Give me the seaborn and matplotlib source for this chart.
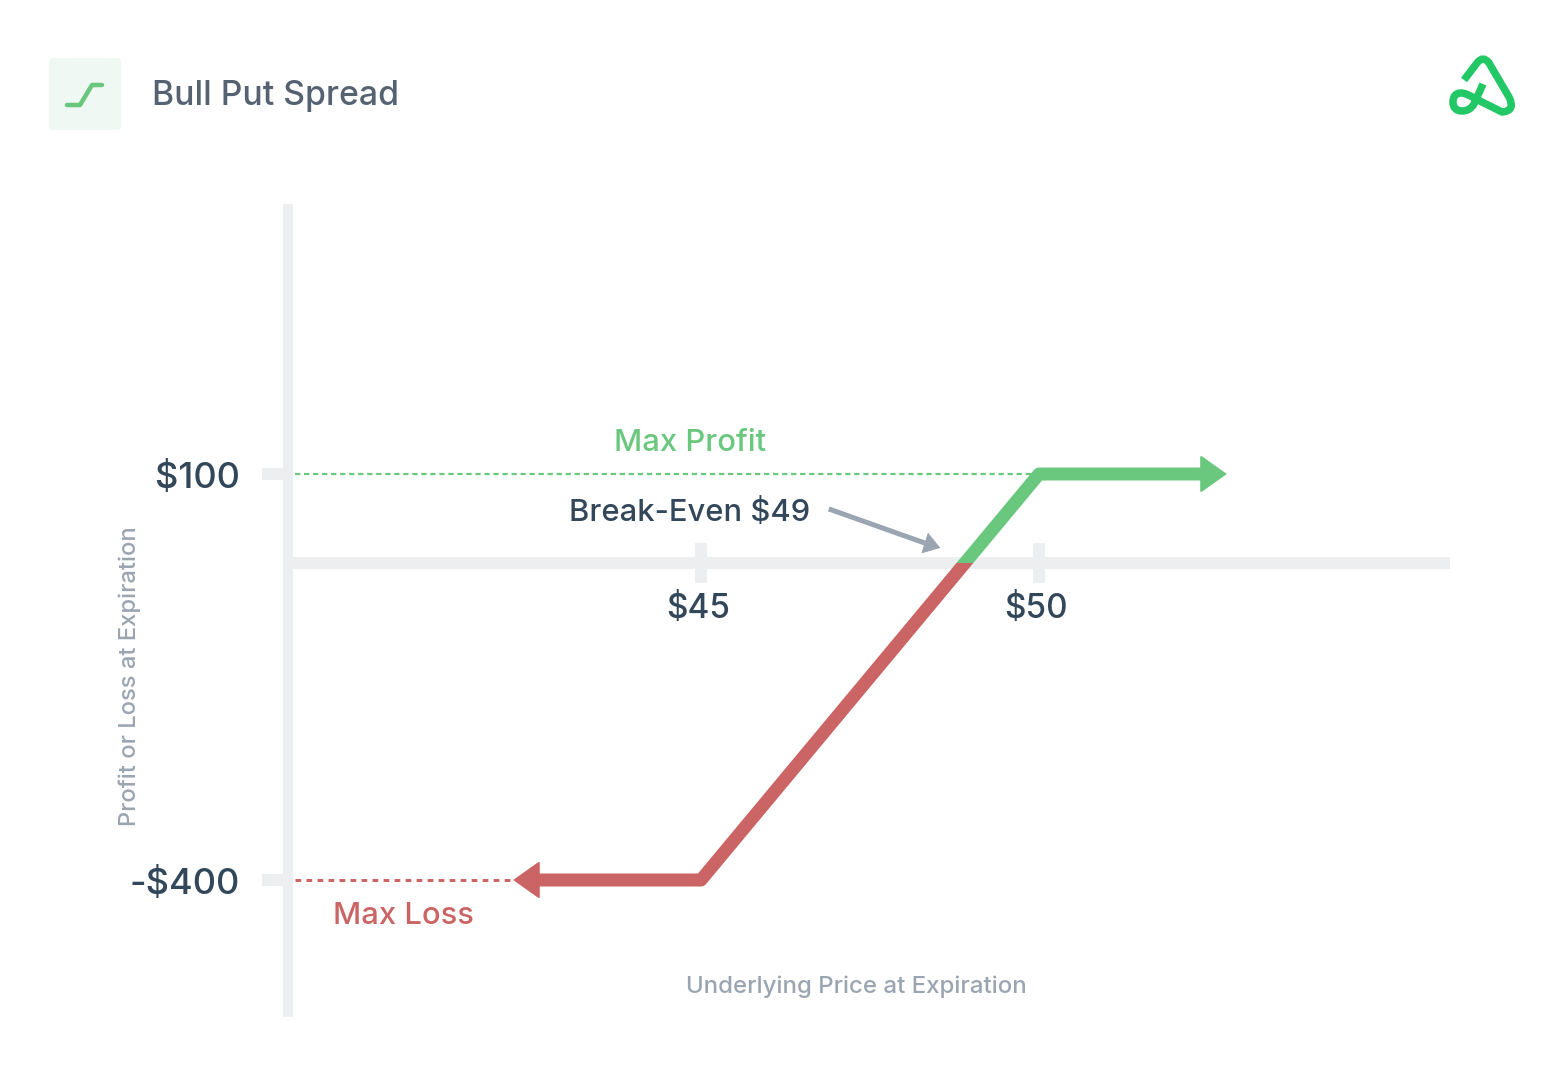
from __future__ import annotations

import matplotlib

matplotlib.use("Agg")

import matplotlib.pyplot as plt
import pandas as pd
import seaborn as sns
from matplotlib.patches import FancyBboxPatch, PathPatch, Rectangle
from matplotlib.path import Path
from matplotlib.transforms import ScaledTranslation

# payoff values
PRICE = [42.6, 45, 50, 52.4]
PNL = [-400, -400, 100, 100]
ARROW_TIP_PRICE = [42.22, 52.78]
X_TICKS = [45, 50]
X_TICK_LABELS = ["$45", "$50"]
Y_TICKS = [-400, 100]
Y_TICK_LABELS = ["-$400", "$100"]
AXIS_LEVEL = -10  # the drawn axis sits a little under the true zero
BREAK_EVEN_PRICE = [46.89, 48.31, 48.54]
BREAK_EVEN_PNL = [57, 15, 9]
MAX_PROFIT_PRICE = [38.99, 50]
MAX_LOSS_PRICE = [38.99, 42.2]

GREEN = "#69c87d"
RED = "#cb6565"
AXIS_GREY = "#eceef0"
DARK = "#33475b"
MUTED = "#9aa5b1"
TITLE = "#556272"
LOGO = "#22c865"

PX = 0.72  # points per pixel at dpi 100

sns.set_theme(style="white")
plt.rcParams["font.family"] = ["Inter", "DejaVu Sans"]

fig = plt.figure(figsize=(15.6, 10.7), dpi=100)
ax = fig.add_axes([288 / 1560, 1 - 1017 / 1070, (1450 - 288) / 1560, (1017 - 204) / 1070])

payoff = pd.DataFrame({"price": PRICE, "pnl": PNL})

# dotted guides out to the max profit and max loss levels
sns.lineplot(x=MAX_PROFIT_PRICE, y=[100, 100], color=GREEN, linewidth=2.2 * PX,
             dashes=(2.4, 1.7), ax=ax)
sns.lineplot(x=MAX_LOSS_PRICE, y=[-400, -400], color=RED, linewidth=3 * PX,
             dashes=(1.9, 1.77), ax=ax)

# same line twice, each colour clipped at the axis
for color, clip in [
    (RED, (30, -2000, 40, 2000 + AXIS_LEVEL)),
    (GREEN, (30, AXIS_LEVEL, 40, 2000)),
]:
    n_before = len(ax.lines)
    sns.lineplot(data=payoff, x="price", y="pnl", color=color, linewidth=13 * PX,
                 sort=False, estimator=None, ax=ax)
    line = ax.lines[n_before]
    line.set_solid_joinstyle("round")
    line.set_solid_capstyle("butt")
    line.set_zorder(4)
    line.set_clip_path(Rectangle(clip[:2], clip[2], clip[3], transform=ax.transData))

# shaft of the break-even pointer, the head is added below
n_before = len(ax.lines)
sns.lineplot(x=BREAK_EVEN_PRICE[:2], y=BREAK_EVEN_PNL[:2], color=MUTED, linewidth=5 * PX, ax=ax)
ax.lines[n_before].set_solid_capstyle("butt")

# 67.6 px per dollar on x, 0.812 px per dollar on y
ax.set_xlim(45 - (701 - 288) / 67.6, 45 + (1450 - 701) / 67.6)
ax.set_ylim(100 - (1017 - 474) / 0.812, 100 + (474 - 204) / 0.812)

for name in ["top", "right"]:
    ax.spines[name].set_visible(False)
ax.spines["left"].set_linewidth(10 * PX)
ax.spines["left"].set_color(AXIS_GREY)
ax.spines["left"].set_capstyle("butt")
ax.spines["bottom"].set_position(("data", AXIS_LEVEL))
ax.spines["bottom"].set_linewidth(12 * PX)
ax.spines["bottom"].set_color(AXIS_GREY)
ax.spines["bottom"].set_capstyle("butt")

ax.set_xticks(X_TICKS, X_TICK_LABELS)
ax.set_yticks(Y_TICKS, Y_TICK_LABELS)
ax.tick_params(axis="x", bottom=True, direction="inout", length=40 * PX, width=12 * PX,
               color=AXIS_GREY, pad=7.2, labelsize=24, labelcolor=DARK)
ax.tick_params(axis="y", left=True, direction="out", length=26 * PX, width=12 * PX,
               color=AXIS_GREY, pad=16, labelsize=26, labelcolor=DARK)
shift = ScaledTranslation(-3 / 100, 0, fig.dpi_scale_trans)
for label in ax.get_xticklabels():
    label.set_transform(label.get_transform() + shift)
    label.set_fontweight(500)
for label in ax.get_yticklabels():
    label.set_fontweight(500)

ax.set_xlabel("Underlying Price at Expiration", fontsize=17.3, fontweight=500, color=MUTED)
ax.xaxis.set_label_coords((856 - 288) / 1162, (1017 - 987) / 813)
ax.xaxis.label.set_verticalalignment("center")
ax.set_ylabel("Profit or Loss at Expiration", fontsize=17.1, fontweight=500, color=MUTED)
ax.yaxis.set_label_coords((130 - 288) / 1162, (1017 - 676) / 813)
ax.yaxis.label.set_verticalalignment("center")


def arrow(start, end, color, head_length, head_width, width):
    ax.annotate(
        "",
        xy=end,
        xytext=start,
        arrowprops=dict(
            arrowstyle=f"-|>,head_length={head_length * PX},head_width={head_width * PX}",
            mutation_scale=1,
            shrinkA=0,
            shrinkB=0,
            color=color,
            lw=width * PX,
        ),
        zorder=5,
    )


arrow((PRICE[0], PNL[0]), (ARROW_TIP_PRICE[0], PNL[0]), RED, 24, 17, 2)
arrow((PRICE[-1], PNL[-1]), (ARROW_TIP_PRICE[1], PNL[-1]), GREEN, 24, 17, 2)
arrow((BREAK_EVEN_PRICE[1], BREAK_EVEN_PNL[1]), (BREAK_EVEN_PRICE[2], BREAK_EVEN_PNL[2]),
      MUTED, 15, 10, 1)

# header and labels are placed in pixel space on an overlay
deco = fig.add_axes([0, 0, 1, 1], facecolor="none")
deco.set_xlim(0, 1560)
deco.set_ylim(1070, 0)
deco.axis("off")

deco.text(152, 93, "Bull Put Spread", fontsize=24.3, fontweight=500, color=TITLE, va="center_baseline")
deco.text(690, 440, "Max Profit", fontsize=22.3, fontweight=500, color=GREEN, ha="center", va="center_baseline")
deco.text(403, 913, "Max Loss", fontsize=22.3, fontweight=500, color=RED, ha="center", va="center_baseline")
deco.text(690, 510, "Break-Even $49", fontsize=22.3, fontweight=500, color=DARK, ha="center", va="center_baseline")

deco.add_patch(FancyBboxPatch((52, 61), 66, 66, boxstyle="round,pad=3,rounding_size=4",
                              facecolor="#eff8f2", edgecolor="none"))
icon_x = [67, 80, 92, 102]
icon_y = [105, 105, 85, 85]
deco.plot(icon_x, icon_y, color=GREEN, lw=4.5 * PX, solid_capstyle="round", solid_joinstyle="round")

# logo outline
logo_pts = [
    (Path.MOVETO, (1464, 80)),
    (Path.LINETO, (1477, 63)),
    (Path.CURVE3, (1483, 55)),
    (Path.CURVE3, (1489, 63)),
    (Path.LINETO, (1509, 97)),
    (Path.CURVE3, (1516, 111)),
    (Path.CURVE3, (1502, 112)),
    (Path.LINETO, (1474, 98)),
    (Path.CURVE3, (1466, 93)),
    (Path.CURVE3, (1461, 93)),
    (Path.CURVE3, (1453, 93)),
    (Path.CURVE3, (1453, 102)),
    (Path.CURVE3, (1453, 111)),
    (Path.CURVE3, (1462, 111)),
    (Path.CURVE3, (1470, 111)),
    (Path.CURVE3, (1474, 104)),
    (Path.LINETO, (1483, 84)),
]
codes, verts = zip(*logo_pts)
deco.add_patch(PathPatch(Path(verts, codes), facecolor="none", edgecolor=LOGO, lw=7.5 * PX,
                         capstyle="butt", joinstyle="round"))

fig.savefig("out.png", dpi=100, facecolor="white")
